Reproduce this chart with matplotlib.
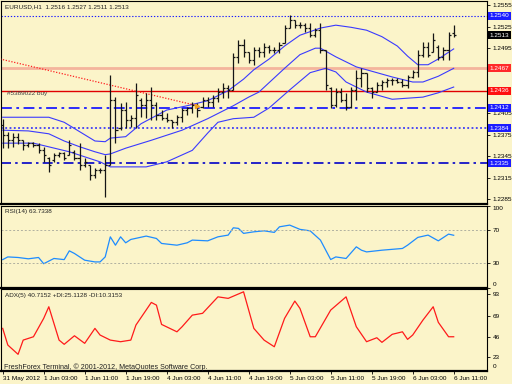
import matplotlib
matplotlib.use("Agg")
import matplotlib.pyplot as plt
import matplotlib.transforms as mtransforms
import numpy as np

plt.rcParams['font.family'] = ['Liberation Sans Narrow', 'Liberation Sans', 'DejaVu Sans']

# ---------------- data ----------------
symbol_title = "EURUSD,H1  1.2516 1.2527 1.2511 1.2513"
opens = [1.2388,1.2374,1.2367,1.2372,1.2367,1.2360,1.2363,1.2360,1.2353,1.2342,
         1.2340,1.2347,1.2349,1.2347,1.2351,1.2342,1.2333,1.2333,1.2319,1.2326,
         1.2326,1.2333,1.2423,1.2384,1.2409,1.2395,1.2398,1.2423,1.2416,1.2423,
         1.2416,1.2402,1.2398,1.2395,1.2392,1.2399,1.2409,1.2412,1.2416,1.2413,
         1.2423,1.2420,1.2426,1.2434,1.2440,1.2437,1.2483,1.2499,1.2490,1.2479,
         1.2492,1.2490,1.2497,1.2492,1.2492,1.2502,1.2523,1.2534,1.2527,1.2527,
         1.2523,1.2513,1.2520,1.2492,1.2440,1.2416,1.2434,1.2423,1.2413,1.2437,
         1.2454,1.2461,1.2440,1.2434,1.2444,1.2448,1.2451,1.2451,1.2448,1.2444,
         1.2455,1.2462,1.2486,1.2497,1.2490,1.2497,1.2483,1.2492,1.2516]
highs = [1.2396,1.2379,1.2377,1.2377,1.2367,1.2365,1.2365,1.2363,1.2358,1.2344,
         1.2349,1.2351,1.2351,1.2367,1.2353,1.2363,1.2342,1.2333,1.2328,1.2328,
         1.2347,1.2458,1.2427,1.2419,1.2420,1.2402,1.2447,1.2426,1.2433,1.2441,
         1.2420,1.2409,1.2405,1.2395,1.2402,1.2412,1.2413,1.2420,1.2419,1.2427,
         1.2427,1.2430,1.2440,1.2447,1.2444,1.2488,1.2506,1.2508,1.2490,1.2497,
         1.2497,1.2502,1.2499,1.2497,1.2504,1.2527,1.2541,1.2534,1.2531,1.2530,
         1.2530,1.2523,1.2530,1.2492,1.2441,1.2440,1.2440,1.2433,1.2441,1.2465,
         1.2467,1.2461,1.2441,1.2448,1.2451,1.2454,1.2454,1.2454,1.2452,1.2458,
         1.2465,1.2492,1.2504,1.2504,1.2516,1.2499,1.2497,1.2518,1.2527]
lows = [1.2356,1.2356,1.2358,1.2362,1.2353,1.2358,1.2358,1.2349,1.2337,1.2323,
        1.2337,1.2344,1.2340,1.2347,1.2340,1.2326,1.2330,1.2312,1.2315,1.2322,
        1.2288,1.2333,1.2363,1.2381,1.2384,1.2385,1.2384,1.2399,1.2398,1.2395,
        1.2395,1.2395,1.2392,1.2384,1.2388,1.2392,1.2402,1.2405,1.2399,1.2412,
        1.2413,1.2413,1.2420,1.2426,1.2426,1.2437,1.2474,1.2483,1.2474,1.2472,
        1.2483,1.2483,1.2488,1.2488,1.2488,1.2502,1.2523,1.2523,1.2523,1.2518,
        1.2511,1.2511,1.2488,1.2437,1.2412,1.2413,1.2420,1.2409,1.2412,1.2423,
        1.2441,1.2434,1.2426,1.2434,1.2437,1.2441,1.2444,1.2447,1.2441,1.2440,
        1.2454,1.2455,1.2483,1.2483,1.2490,1.2479,1.2479,1.2479,1.2511]
closes = [1.2374,1.2367,1.2372,1.2367,1.2360,1.2363,1.2360,1.2353,1.2347,1.2333,
          1.2347,1.2349,1.2342,1.2360,1.2342,1.2333,1.2337,1.2319,1.2326,1.2326,
          1.2333,1.2423,1.2381,1.2409,1.2395,1.2398,1.2430,1.2416,1.2423,1.2416,
          1.2402,1.2398,1.2395,1.2392,1.2399,1.2409,1.2412,1.2416,1.2409,1.2423,
          1.2420,1.2426,1.2434,1.2440,1.2437,1.2483,1.2499,1.2490,1.2479,1.2492,
          1.2490,1.2497,1.2492,1.2492,1.2499,1.2523,1.2534,1.2527,1.2527,1.2523,
          1.2513,1.2520,1.2492,1.2444,1.2416,1.2434,1.2423,1.2413,1.2437,1.2454,
          1.2461,1.2440,1.2434,1.2444,1.2448,1.2451,1.2451,1.2448,1.2444,1.2455,
          1.2462,1.2486,1.2497,1.2486,1.2506,1.2483,1.2492,1.2513,1.2513]

upper_idx = [0,5,9,12,15,18,20,21,24,27,32,36,40,44,47,49,52,55,58,62,65,68,71,74,77,79,81,83,85,88]
upper_val = [1.2399,1.2399,1.2399,1.2392,1.2379,1.2366,1.2365,1.2370,1.2372,1.2390,1.2409,1.2415,
             1.2422,1.2436,1.2452,1.2465,1.2480,1.2498,1.2513,1.2523,1.2527,1.2524,1.2520,1.2511,
             1.2498,1.2484,1.2472,1.2472,1.2480,1.2494]
middle_idx = [0,5,9,12,15,18,20,21,24,29,35,40,45,48,50,55,58,61,62,65,69,72,76,80,82,85,88]
middle_val = [1.2381,1.2380,1.2376,1.2366,1.2358,1.2351,1.2347,1.2348,1.2356,1.2367,1.2381,1.2397,
              1.2415,1.2427,1.2434,1.2467,1.2486,1.2495,1.2495,1.2483,1.2469,1.2463,1.2455,1.2448,
              1.2448,1.2456,1.2467]
lower_idx = [0,6,13,16,19,21,28,32,37,40,42,45,49,52,56,60,63,65,67,71,76,80,82,85,88]
lower_val = [1.2363,1.2363,1.2351,1.2344,1.2337,1.2330,1.2330,1.2337,1.2353,1.2377,1.2392,1.2397,
             1.2399,1.2412,1.2437,1.2461,1.2467,1.2462,1.2448,1.2434,1.2424,1.2426,1.2427,1.2433,
             1.2441]

level_prices = [1.2540, 1.2467, 1.2436, 1.2412, 1.2384, 1.2335]
level_labels = ["1.2540", "1.2467", "1.2436", "1.2412", "1.2384", "1.2335"]
last_price = 1.2513
order_label = "#5389022 buy"
trade_line_idx = [-0.5, 38]
trade_line_price = [1.2480, 1.2415]

price_ticks = [1.2285, 1.2315, 1.2345, 1.2375, 1.2405, 1.2495, 1.2525, 1.2555]

rsi_title = "RSI(14) 63.7338"
rsi_idx = [0,1,3,5,7,8,10,12,13,14,16,18,19,20,21,22,23,24,25,28,30,31,34,36,37,40,42,44,45,46,
           47,49,51,53,54,56,58,60,62,64,65,67,69,70,71,74,78,79,81,83,85,87,88]
rsi_val = [34,37.3,36.6,35,36.6,29,35.4,34,44.7,41.5,33.3,31.2,31.2,37.3,61.8,51.6,61.8,54.5,58.6,62.7,
           59.8,53.7,51.6,54.5,57.8,56.9,61.8,63.9,72.8,72.1,66,67.9,69.1,67.2,74,76.1,70.9,69.1,57.8,34.1,
           37.3,35.4,49.6,45.5,43.4,45.5,47.6,51.6,61.1,63.9,56.9,65.1,63.7]
rsi_levels = [70, 30]

adx_title = "ADX(5) 40.7152 +DI:25.1128 -DI:10.3153"
adx_idx = [0,1,3,4,6,8,9,11,12,14,16,18,19,21,23,25,26,29,30,31,34,35,37,39,42,44,47,49,51,53,55,57,58,
           60,61,64,67,69,71,73,74,76,78,79,80,82,84,85,87,88]
adx_val = [55.3,36.8,26.5,42.3,46,66.4,79.3,42.3,37.6,47.1,38.7,55.3,47.9,42.3,40.5,42.3,59,84.1,81.1,59.7,
           51.5,57.1,70,72,90.3,88.6,95.9,55.3,42.3,34.9,66.4,85.6,77.5,46,46,75.6,90.3,57.1,40.5,44.9,
           39.8,48.7,51.5,43.1,47.9,64.5,79.3,62,46,46]

time_tick_idx = [0, 8, 16, 24, 32, 40, 48, 56, 64, 72, 80, 88]
time_labels = ["31 May 2012", "1 Jun 03:00", "1 Jun 11:00", "1 Jun 19:00", "4 Jun 03:00", "4 Jun 11:00",
               "4 Jun 19:00", "5 Jun 03:00", "5 Jun 11:00", "5 Jun 19:00", "6 Jun 03:00", "6 Jun 11:00"]
copyright_text = "FreshForex Terminal, \u00a9 2001-2012, MetaQuotes Software Corp."

# ---------------- style ----------------
BG = "#fbf4c9"
BLUE = "#1c1cff"
FS = 4.6
W, H = 512, 384
fig = plt.figure(figsize=(W / 100, H / 100), dpi=100, facecolor=BG)

def fbox(top_px, bot_px, left_px=1, right_px=487):
    return [left_px / W, 1 - bot_px / H, (right_px - left_px) / W, (bot_px - top_px) / H]

ax = fig.add_axes(fbox(1, 204))
ax_rsi = fig.add_axes(fbox(205.5, 287.5), sharex=ax)
ax_adx = fig.add_axes(fbox(289, 371), sharex=ax)

for a in (ax, ax_rsi, ax_adx):
    a.set_facecolor(BG)
    for s in a.spines.values():
        s.set_color("black")
        s.set_linewidth(0.8)
    a.spines['bottom'].set_linewidth(1.6)
    a.yaxis.tick_right()
    a.tick_params(axis='y', direction='out', length=2.5, width=0.6, pad=1.5, labelsize=FS,
                  colors='black')
    a.tick_params(axis='x', length=0)

ax.set_xlim(-0.33, 94.5)

# ---- main price panel ----
x = np.arange(len(closes))
ax.vlines(x, lows, highs, color="#151515", lw=0.9, zorder=4)
ax.hlines(opens, x - 0.42, x, color="#151515", lw=0.9, zorder=4)
ax.hlines(closes, x, x + 0.42, color="#151515", lw=0.9, zorder=4)

band_color = "#3a3aff"
ax.plot(upper_idx, upper_val, color=band_color, lw=0.8, zorder=3)
ax.plot(middle_idx, middle_val, color=band_color, lw=0.8, zorder=3)
ax.plot(lower_idx, lower_val, color=band_color, lw=0.8, zorder=3)

level_styles = [
    dict(color=BLUE, lw=0.8, ls=(0, (1.2, 1.6))),
    dict(color="#f4b49c", lw=2.0, ls='-'),
    dict(color="#e00000", lw=1.0, ls='-'),
    dict(color=BLUE, lw=1.3, ls=(0, (6, 2.5, 1.5, 2.5))),
    dict(color=BLUE, lw=1.1, ls=(0, (1.2, 1.6))),
    dict(color="#0000c8", lw=1.2, ls=(0, (6, 2.5, 1.5, 2.5))),
]
level_box = ["#1c1cff", "#ff2a2a", "#ff1010", "#1c1cff", "#1c1cff", "#1c1cff"]
for p, st in zip(level_prices, level_styles):
    ax.axhline(p, zorder=2, **st)

ax.plot(trade_line_idx, trade_line_price, color="#ff2020", lw=0.9, ls=(0, (1, 1.3)), zorder=3)
ax.plot([trade_line_idx[-1]], [trade_line_price[-1]], marker='>', ms=3, color="#f0a020", zorder=5)

ax.set_ylim(1.22784, 1.25606)
ax.set_yticks(price_ticks)
ax.set_yticklabels([f"{t:.4f}" for t in price_ticks])

trans = mtransforms.blended_transform_factory(ax.transAxes, ax.transData)
for p, lab, c in zip(level_prices, level_labels, level_box):
    ax.text(1.006, p, lab, transform=trans, fontsize=FS, color="white", va='center', ha='left',
            clip_on=False, zorder=10,
            bbox=dict(boxstyle="square,pad=0.25", fc=c, ec=c, lw=0))
ax.text(1.006, last_price, f"{last_price:.4f}", transform=trans, fontsize=FS, color="white",
        va='center', ha='left', clip_on=False, zorder=10,
        bbox=dict(boxstyle="square,pad=0.25", fc="black", ec="black", lw=0))

ax.text(0.008, 0.972, symbol_title, transform=ax.transAxes, fontsize=FS, color="#202020",
        va='center', ha='left')
ax.text(0.012, level_prices[2], order_label, transform=trans, fontsize=FS, color="#404040",
        va='top', ha='left')

# ---- RSI panel ----
ax_rsi.plot(rsi_idx, rsi_val, color="#1e8cff", lw=0.9)
for lv in rsi_levels:
    ax_rsi.axhline(lv, color="#b0b0a0", lw=0.7, ls=(0, (2, 2)))
ax_rsi.set_ylim(0, 100)
ax_rsi.set_yticks([0, 30, 70, 100])
ax_rsi.set_yticklabels(["0", "30", "70", "100"])
for lab in ax_rsi.get_yticklabels():
    if lab.get_text() == "100":
        lab.set_va('top')
    if lab.get_text() == "0":
        lab.set_va('bottom')
ax_rsi.text(0.008, 0.93, rsi_title, transform=ax_rsi.transAxes, fontsize=FS, color="#202020",
            va='center', ha='left')

# ---- ADX panel ----
ax_adx.plot(adx_idx, adx_val, color="#ff1a1a", lw=0.9)
ax_adx.set_ylim(8, 99)
ax_adx.set_yticks([23, 46, 69, 93])
ax_adx.set_yticklabels(["23", "46", "69", "93"])
ax_adx.text(1.012, 0.03, "0", transform=ax_adx.transAxes, fontsize=FS, va='bottom', ha='left',
            clip_on=False)
ax_adx.text(0.008, 0.915, adx_title, transform=ax_adx.transAxes, fontsize=FS, color="#202020",
            va='center', ha='left')
ax_adx.text(0.006, 0.05, copyright_text, transform=ax_adx.transAxes, fontsize=FS + 0.5,
            color="#202020", va='center', ha='left')

ax_adx.set_xticks(time_tick_idx)
ax_adx.set_xticklabels(time_labels)
ax_adx.tick_params(axis='x', length=2, width=0.6, pad=1.5, labelsize=FS, direction='out')
for lab in ax_adx.get_xticklabels():
    lab.set_ha('left')
plt.setp(ax.get_xticklabels(), visible=False)
plt.setp(ax_rsi.get_xticklabels(), visible=False)

fig.savefig("out.png", dpi=100, facecolor=BG)
